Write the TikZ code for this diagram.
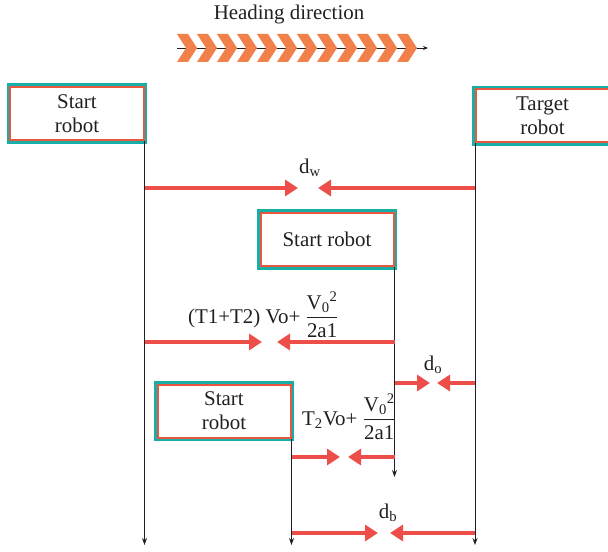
\documentclass[tikz,border=0pt]{standalone}
\usepackage{amsmath}
\usepackage{fontspec}
\setmainfont{Liberation Serif}
\usetikzlibrary{arrows.meta}
\definecolor{tealline}{RGB}{22,174,166}
\definecolor{boxred}{RGB}{233,88,62}
\definecolor{pushred}{RGB}{238,78,74}
\definecolor{chevron}{RGB}{242,128,74}
\definecolor{ink}{RGB}{35,31,32}

\begin{document}
\begin{tikzpicture}[x=1bp,y=-1bp,
  every node/.style={font=\fontsize{21}{24}\selectfont,text=ink},
  robot/.style={rectangle,draw=boxred,line width=2bp,fill=white,
    preaction={draw=tealline,line width=7.5bp},
    minimum width=133bp,minimum height=53bp,inner sep=0pt,align=center},
  track/.style={-{Stealth[length=7bp,width=5bp]},line width=0.9bp,ink},
  push/.style={-{Triangle[length=13bp,width=16bp]},line width=4bp,pushred}]
\useasboundingbox (0,0) rectangle (608,552);

% heading
\node (head) at (289,15) {Heading direction};
\coordinate (hs) at (177,48);
\coordinate (he) at (428,48);
\draw[-{Stealth[length=5bp,width=4bp]},line width=0.8bp,ink] (hs) -- (he);
\foreach \i in {0,...,11}
  \fill[chevron] ({177+20*\i},34) -- ++(11,0) -- ++(9,14) -- ++(-9,14)
    -- ++(-11,0) -- ++(9,-14) -- cycle;

% robots
\node[robot] (s1) at (77,113.5) {Start\\robot};
\node[robot] (tg) at (542.5,116) {Target\\robot};
\node[robot] (s2) at (327,239.5) {Start robot};
\node[robot] (s3) at (224,411) {Start\\robot};

% time lines
\coordinate (end) at (0,545);
\coordinate (mid) at (0,477);
\draw[track] (s1.south east) -- (s1.south east |- end);
\draw[track] (tg.south west) -- (tg.south west |- end);
\draw[track] (s2.south east) -- (s2.south east |- mid);
\draw[track] (s3.south east) -- (s3.south east |- end);

% distances
\coordinate (w1) at (298,188);
\coordinate (w2) at (318,188);
\draw[push] (s1.south east |- w1) -- (w1);
\draw[push] (tg.south west |- w2) -- (w2);
\node (dw) at (310,168) {d$_{\text{w}}$};

\coordinate (p1) at (262,342);
\coordinate (p2) at (277,342);
\draw[push] (s1.south east |- p1) -- (p1);
\draw[push] (s2.south east |- p2) -- (p2);
\node[anchor=base west,inner sep=0pt] (f1) at (188,323)
  {(T1+T2) Vo+ $\dfrac{\text{V}_{\text{0}}{}^{\text{2}}}{\text{2a1}}$};

\coordinate (o1) at (430,383);
\coordinate (o2) at (437,383);
\draw[push] (s2.south east |- o1) -- (o1);
\draw[push] (tg.south west |- o2) -- (o2);
\node (do) at (433,365) {d$_{\text{o}}$};

\coordinate (q1) at (340,457);
\coordinate (q2) at (348,457);
\draw[push] (s3.south east |- q1) -- (q1);
\draw[push] (s2.south east |- q2) -- (q2);
\node[anchor=base west,inner sep=0pt] (f2) at (302,425)
  {T$_{\text{2}}$Vo+ $\dfrac{\text{V}_{\text{0}}{}^{\text{2}}}{\text{2a1}}$};

\coordinate (b1) at (378,533);
\coordinate (b2) at (390,533);
\draw[push] (s3.south east |- b1) -- (b1);
\draw[push] (tg.south west |- b2) -- (b2);
\node (db) at (388,513) {d$_{\text{b}}$};
\end{tikzpicture}
\end{document}
